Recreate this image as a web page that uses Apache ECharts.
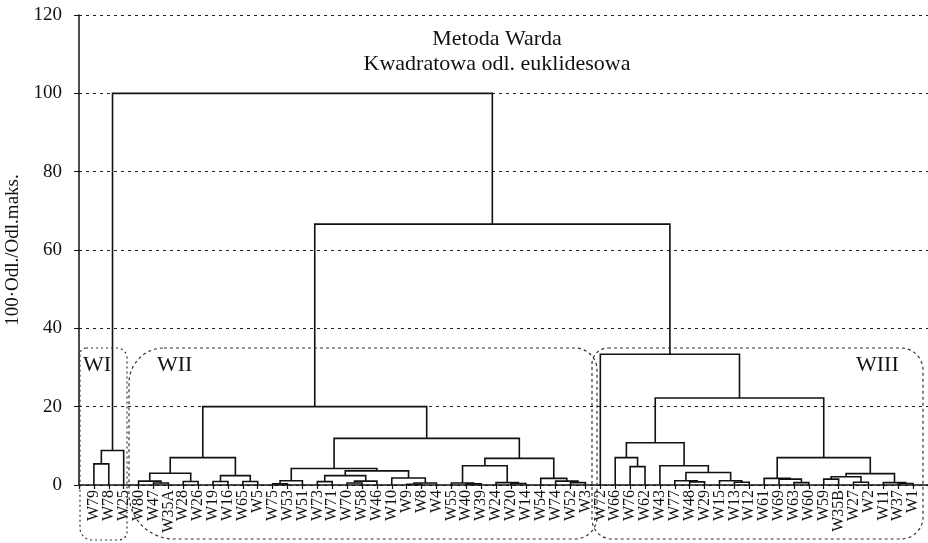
<!DOCTYPE html>
<html><head><meta charset="utf-8">
<script src="https://cdn.jsdelivr.net/npm/echarts@6/dist/echarts.min.js"></script>
<style>html,body{margin:0;padding:0;background:#fff}#c{width:928px;height:543px}</style>
</head><body><div id="c"></div>
<script>
// Leaf order along the axis
const leafLabels = ['W79','W78','W25','W80','W47','W35A','W28','W26','W19','W16','W65','W5','W75','W53','W51','W73','W71','W70','W58','W46','W10','W9','W8','W4','W55','W40','W39','W24','W20','W14','W54','W74','W52','W3','W72','W66','W76','W62','W43','W77','W48','W29','W15','W13','W12','W61','W69','W63','W60','W59','W35B','W27','W2','W11','W37','W1'];
// Merges: ids 0..55 are leaves; merge k creates node id 56+k
const mergeLeft   = [0,56, 4,3,6,59,8,10,62,61, 12,66,15,17,69,68,21,72,20,71,67,25,24,28,27,78,32,31,30,81,76,65, 36,35,40,39,43,42,91,38,89,47,46,45,49,51,100,54,53,102,99,96,34,87,57];
const mergeRight  = [1,2, 5,58,7,60,9,11,63,64, 13,14,16,18,19,70,22,23,73,74,75,26,77,29,79,80,33,82,83,84,85,86, 37,88,41,90,44,92,93,94,95,48,97,98,50,52,101,55,103,104,105,106,107,108,109];
const mergeHeight = [5.4,8.8, 0.5,1.0,0.9,3.0,0.9,0.9,2.4,7.0, 0.3,1.1,0.85,0.5,1.0,2.4,0.2,0.5,1.8,3.6,4.2,0.3,0.5,0.4,0.6,4.9,0.6,1.0,1.7,6.8,11.9,20.0, 4.7,7.0,0.8,1.1,0.7,1.1,3.2,4.9,10.8,0.6,1.5,1.7,1.5,0.7,2.1,0.4,0.6,2.9,7.0,22.2,33.4,66.6,100];
const yTickValues = [0,20,40,60,80,100,120];
const groupNames = ['WI','WII','WIII'];

const nLeaf = leafLabels.length;
const nodeX = [], nodeH = [];
for (let i = 0; i < nLeaf; i++) { nodeX.push(i + 1); nodeH.push(0); }
const segData = [];
for (let k = 0; k < mergeLeft.length; k++) {
  const l = mergeLeft[k], r = mergeRight[k], h = mergeHeight[k];
  segData.push([nodeX[l], nodeH[l], nodeX[r], nodeH[r], h]);
  nodeX.push((nodeX[l] + nodeX[r]) / 2);
  nodeH.push(h);
}

const serif = '"Liberation Serif", "DejaVu Serif", serif';
const chart = echarts.init(document.getElementById('c'), null, {renderer: 'canvas'});
chart.setOption({
  animation: false,
  backgroundColor: '#fff',
  title: {
    text: 'Metoda Warda\nKwadratowa odl. euklidesowa',
    left: 492, top: 22, textAlign: 'center',
    textStyle: {fontFamily: serif, fontSize: 22, fontWeight: 'normal', color: '#111', lineHeight: 25}
  },
  grid: {left: 79, right: 0, top: 15, bottom: 58, containLabel: false, outerBoundsMode: 'none'},
  xAxis: [{
    type: 'category', data: [''].concat(leafLabels, ['']), boundaryGap: false,
    axisLine: {lineStyle: {color: '#111', width: 1.5}},
    axisTick: {show: true, length: 4, interval: 0, lineStyle: {color: '#111', width: 1.2}},
    axisLabel: {interval: 0, rotate: 90, margin: 5, fontFamily: serif, fontSize: 16, color: '#111'},
    splitLine: {show: false}
  }, {
    type: 'value', min: 0, max: nLeaf + 1, show: false, splitLine: {show: false}
  }],
  yAxis: {
    type: 'value', min: 0, max: 120, interval: 20,
    name: '100·Odl./Odl.maks.', nameLocation: 'middle', nameGap: 56,
    nameTextStyle: {fontFamily: serif, fontSize: 19, color: '#111'},
    axisLine: {show: true, lineStyle: {color: '#111', width: 1.5}},
    axisTick: {show: true, length: 5, lineStyle: {color: '#111'}},
    axisLabel: {margin: 17, fontFamily: serif, fontSize: 19, color: '#111',
      formatter: v => (yTickValues.indexOf(v) >= 0 ? String(v) : '')},
    splitLine: {show: true, lineStyle: {color: '#222', type: [3, 4], width: 1}}
  },
  series: [{
    type: 'custom', xAxisIndex: 1, yAxisIndex: 0, clip: false,
    data: segData,
    encode: {x: [0, 2], y: [1, 3, 4]},
    renderItem: function (params, api) {
      const p1 = api.coord([api.value(0), api.value(1)]);
      const p2 = api.coord([api.value(0), api.value(4)]);
      const p3 = api.coord([api.value(2), api.value(4)]);
      const p4 = api.coord([api.value(2), api.value(3)]);
      return {type: 'polyline', shape: {points: [p1, p2, p3, p4]},
        style: {stroke: '#111', lineWidth: 1.6, fill: null}};
    }
  }],
  graphic: [
    {type: 'rect', shape: {x: 80, y: 348, width: 47, height: 192, r: [6, 10, 8, 12]},
      style: {fill: null, stroke: '#333', lineWidth: 1.2, lineDash: [2, 3]}, z: 10},
    {type: 'rect', shape: {x: 129, y: 348, width: 468, height: 191, r: [35, 22, 22, 45]},
      style: {fill: null, stroke: '#333', lineWidth: 1.2, lineDash: [3, 3]}, z: 10},
    {type: 'rect', shape: {x: 592, y: 348, width: 331, height: 191, r: [16, 22, 22, 20]},
      style: {fill: null, stroke: '#333', lineWidth: 1.2, lineDash: [3, 3]}, z: 10},
    {type: 'text', x: 83, y: 354, style: {text: groupNames[0], font: '22px ' + serif, fill: '#111'}, z: 10},
    {type: 'text', x: 157, y: 354, style: {text: groupNames[1], font: '22px ' + serif, fill: '#111'}, z: 10},
    {type: 'text', x: 856, y: 354, style: {text: groupNames[2], font: '22px ' + serif, fill: '#111'}, z: 10}
  ]
});
</script></body></html>
